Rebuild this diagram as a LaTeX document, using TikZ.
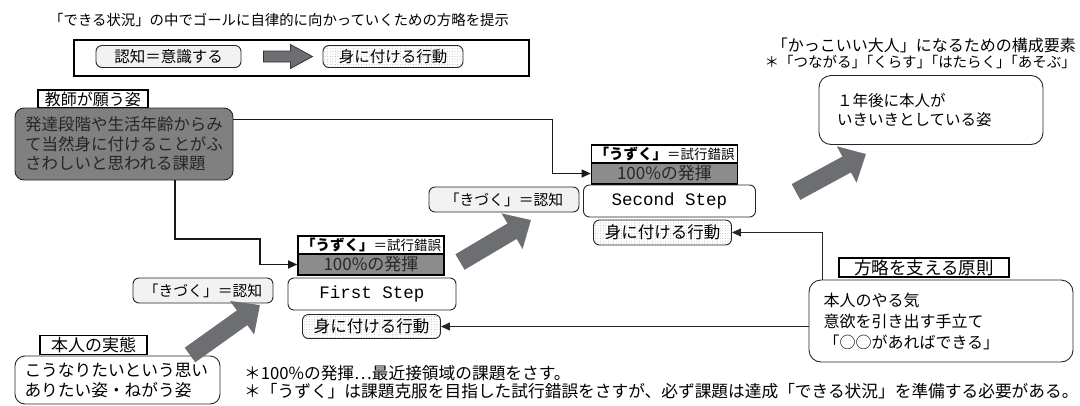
\documentclass[tikz,border=0pt]{standalone}
\usepackage{fontspec}
\setmainfont{Noto Sans CJK JP}
\newfontfamily\monof{Liberation Mono}
\usetikzlibrary{arrows.meta,patterns.meta,calc}
\definecolor{arrowgray}{HTML}{6D6E71}
\definecolor{boxgray}{HTML}{808080}
\definecolor{hkfill}{HTML}{8C8C8C}
\definecolor{kzfill}{HTML}{F2F2F2}
\newcommand\fsz[2]{\fontsize{#1pt}{#2pt}\selectfont}
\begin{document}
\begin{tikzpicture}[x=1pt,y=-1pt,
  rbox/.style={draw=black!85, line width=0.9pt, rounded corners=6pt, inner sep=2pt},
  lbl/.style={draw=black, line width=1.6pt, fill=white, inner sep=1pt},
  kz/.style={rbox, fill=kzfill},
  dt/.style={rbox, pattern={Dots[distance=2.6pt,radius=0.45pt]}, pattern color=gray!70},
  sq/.style={draw=black, line width=1.6pt, inner sep=0pt},
  conn/.style={draw=black!90, line width=1.3pt, -{Triangle[length=9pt,width=8pt]}},
  conn2/.style={draw=black!85, line width=0.9pt, -{Triangle[length=9pt,width=8pt]}},
  bigarrow/.style={draw=arrowgray, line width=18pt, -{Triangle[length=22pt,width=40pt]}},
  txt/.style={inner sep=0pt}
]
\useasboundingbox (0,0) rectangle (1080,405);

% title and top box
\node[txt, anchor=west, font=\fsz{14.4}{17}] (title) at (49,20) {「できる状況」の中でゴールに自律的に向かっていくための方略を提示};
\node[draw, line width=1.8pt, minimum width=455, minimum height=36, anchor=north west, inner sep=0pt] (topbox) at (73,39) {};
\node[rbox, fill=kzfill, minimum width=145, minimum height=22, font=\fsz{15.5}{18}] (ninchi) at (168.5,56.5) {認知＝意識する};
\draw[draw=black!80, fill=arrowgray, line width=0.8pt] ([xshift=22pt]ninchi.east) ++(0,-5.5) -- ++(27,0) -- ++(0,-6.5) -- ++(22,12) -- ++(-22,12) -- ++(0,-6.5) -- ++(-27,0) -- cycle;
\node[dt, minimum width=140, minimum height=22, font=\fsz{15.5}{18}] (mi0) at (393,56.5) {身に付ける行動};

% teacher
\node[lbl, minimum width=110, minimum height=18, font=\fsz{16}{18}] (kyoshi) at (93,99) {教師が願う姿};
\node[rbox, fill=boxgray, rounded corners=9pt, minimum width=218, minimum height=72, align=left, text=black!85, font=\fsz{16.5}{19.5}] (gray) at (124,144) {発達段階や生活年齢からみ\\て当然身に付けることがふ\\さわしいと思われる課題};

% step 2
\node[sq, fill=white, minimum width=146, minimum height=18] (uz2) at (664.5,154) {\fsz{14.5}{16}\bfseries 「うずく」\fsz{13.5}{16}\mdseries ＝試行錯誤};
\node[sq, fill=hkfill, minimum width=146, minimum height=21, text=black!85, font=\fsz{17}{19}] (hk2) at (664.5,173.5) {100\%の発揮};
\node[rbox, minimum width=172, minimum height=32, font=\monof\fsz{17.5}{19}] (st2) at (669.5,201) {Second Step};
\node[dt, minimum width=138, minimum height=25, font=\fsz{16.5}{18}] (mi2) at (662.5,232.5) {身に付ける行動};
\node[kz, minimum width=150, minimum height=25, font=\fsz{14.8}{17}] (kz2) at (504,199.5) {「きづく」＝認知};

% step 1
\node[sq, fill=white, minimum width=146, minimum height=18] (uz1) at (371,245) {\fsz{14.5}{16}\bfseries 「うずく」\fsz{13.5}{16}\mdseries ＝試行錯誤};
\node[sq, fill=hkfill, minimum width=146, minimum height=21, text=black!85, font=\fsz{17}{19}] (hk1) at (371,264.5) {100\%の発揮};
\node[rbox, minimum width=168, minimum height=32, font=\monof\fsz{17.5}{19}] (st1) at (372,294) {First Step};
\node[dt, minimum width=138, minimum height=24, font=\fsz{16.5}{18}] (mi1) at (371.5,326.5) {身に付ける行動};
\node[kz, minimum width=140, minimum height=25, font=\fsz{14.8}{17}] (kz1) at (203,290.5) {「きづく」＝認知};

% honnin
\node[lbl, minimum width=107, minimum height=19, font=\fsz{17}{19}] (jittai) at (93.5,345) {本人の実態};
\node[rbox, rounded corners=10pt, minimum width=205, minimum height=48, text width=186, align=left, font=\fsz{16.7}{20}] (honnin) at (117.5,380) {こうなりたいという思い\\ありたい姿・ねがう姿};

% top right
\node[txt, anchor=east, font=\fsz{16}{18}] (kak1) at (1076,45) {「かっこいい大人」になるための構成要素};
\node[txt, anchor=east, font=\fsz{14.5}{17}] (kak2) at (1076,62) {＊「つながる」\kern-.5em「くらす」\kern-.5em「はたらく」\kern-.5em「あそぶ」};
\node[rbox, rounded corners=12pt, minimum width=224, minimum height=69, text width=188, align=left, font=\fsz{15.5}{19}] (goal) at (931,110) {１年後に本人が\\いきいきとしている姿};

% principle
\node[lbl, minimum width=170, minimum height=19, font=\fsz{17.5}{19}] (hoshin) at (924,267.5) {方略を支える原則};
\node[rbox, rounded corners=12pt, minimum width=264, minimum height=82, text width=235, align=left, font=\fsz{16}{21}] (gen) at (941,321) {本人のやる気\\意欲を引き出す手立て\\「○○があればできる」};

% footer
\node[txt, anchor=west, font=\fsz{16.7}{19}] (note1) at (244,373) {＊100\%の発揮…最近接領域の課題をさす。};
\node[txt, anchor=west, font=\fsz{16.7}{19}] (note2) at (244,391) {＊「うずく」は課題克服を目指した試行錯誤をさすが、必ず課題は達成「できる状況」を準備する必要がある。};

% connectors
\coordinate (c2) at (260,239);
\draw[conn] ([yshift=-12pt]gray.north east) -| ([xshift=-38pt]hk2.west) -- (hk2.west);
\draw[conn] ([xshift=51pt]gray.south) |- (c2) |- (hk1.west);
\draw[conn2] ([xshift=14pt]gen.north west) |- (mi2.east);
\draw[conn2] (mi1.east -| gen.west) -- (mi1.east);

% big arrows
\coordinate (a1t) at (190,355); \coordinate (a1h) at (260,305);
\coordinate (a2t) at (460,262); \coordinate (a2h) at (531,220);
\coordinate (a3t) at (796,192); \coordinate (a3h) at (866,154);
\draw[bigarrow] (a1t) -- (a1h);
\draw[bigarrow] (a2t) -- (a2h);
\draw[bigarrow] (a3t) -- (a3h);
\end{tikzpicture}
\end{document}
